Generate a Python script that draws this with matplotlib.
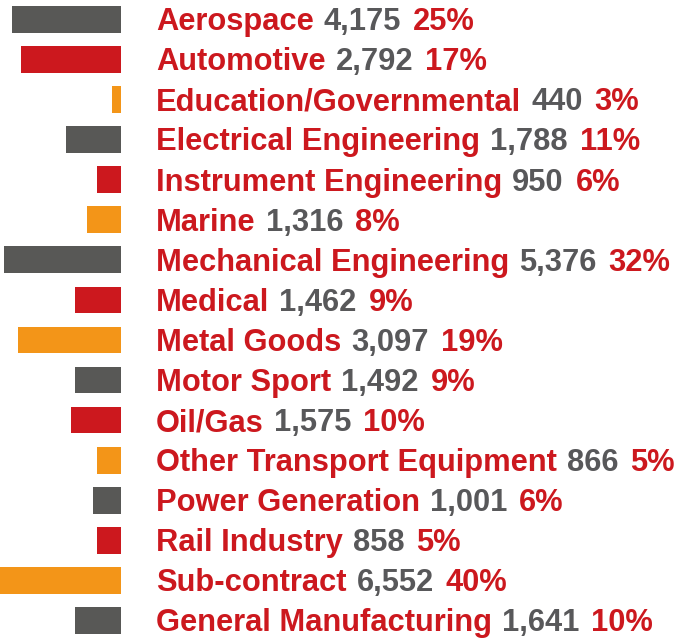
import matplotlib
matplotlib.use('Agg')
import matplotlib.pyplot as plt
import matplotlib.transforms as mtransforms

sectors = ['Aerospace', 'Automotive', 'Education/Governmental', 'Electrical Engineering',
           'Instrument Engineering', 'Marine', 'Mechanical Engineering', 'Medical',
           'Metal Goods', 'Motor Sport', 'Oil/Gas', 'Other Transport Equipment',
           'Power Generation', 'Rail Industry', 'Sub-contract', 'General Manufacturing']
counts = [4175, 2792, 440, 1788, 950, 1316, 5376, 1462,
          3097, 1492, 1575, 866, 1001, 858, 6552, 1641]
percents = [25, 17, 3, 11, 6, 8, 32, 9, 19, 9, 10, 5, 6, 5, 40, 10]
# bar lengths as drawn in the original (not proportional to counts)
bar_sizes = [109, 100, 9, 55, 24, 34, 117, 46, 103, 46, 50, 24, 28, 24, 121, 46]
bar_colours = ['grey', 'red', 'orange'] * 5 + ['grey']

palette = {'grey': '#585856', 'red': '#cc181e', 'orange': '#f39518'}
RED = '#cc181e'
GREY = '#58585a'

W, H = 676, 638
fig = plt.figure(figsize=(W / 100, H / 100), dpi=100)
# axes spans the bar area: right edge of bars at 121px
ax = fig.add_axes([0, 0, 121 / W, 1])
pitch = 40.08
top = -19.3 / pitch
bottom = 15 + (H - 620.5) / pitch
rows = list(range(len(sectors)))
ax.barh(rows, bar_sizes, height=26.7 / pitch,
        color=[palette[c] for c in bar_colours])
ax.set_xlim(121, 0)
ax.set_ylim(bottom, top)
ax.axis('off')

fs = 22.2
trans = mtransforms.blended_transform_factory(fig.transFigure, ax.transData)
base_off = 10.9 / pitch
for i in rows:
    t1 = ax.text(156 / W, i + base_off, sectors[i], transform=trans,
                 color=RED, fontsize=fs, fontweight='bold',
                 family='Liberation Sans', va='baseline', ha='left')
    t2 = ax.annotate('{:,}'.format(counts[i]), xy=(1, 0), xycoords=t1,
                     xytext=(10, 0), textcoords='offset pixels',
                     color=GREY, fontsize=fs, family='Liberation Sans',
                     fontweight='bold', va='bottom', ha='left')
    ax.annotate('{}%'.format(percents[i]), xy=(1, 0), xycoords=t2,
                xytext=(12, 0), textcoords='offset pixels',
                color=RED, fontsize=fs, family='Liberation Sans',
                fontweight='bold', va='bottom', ha='left')

fig.savefig('out.png', dpi=100)
